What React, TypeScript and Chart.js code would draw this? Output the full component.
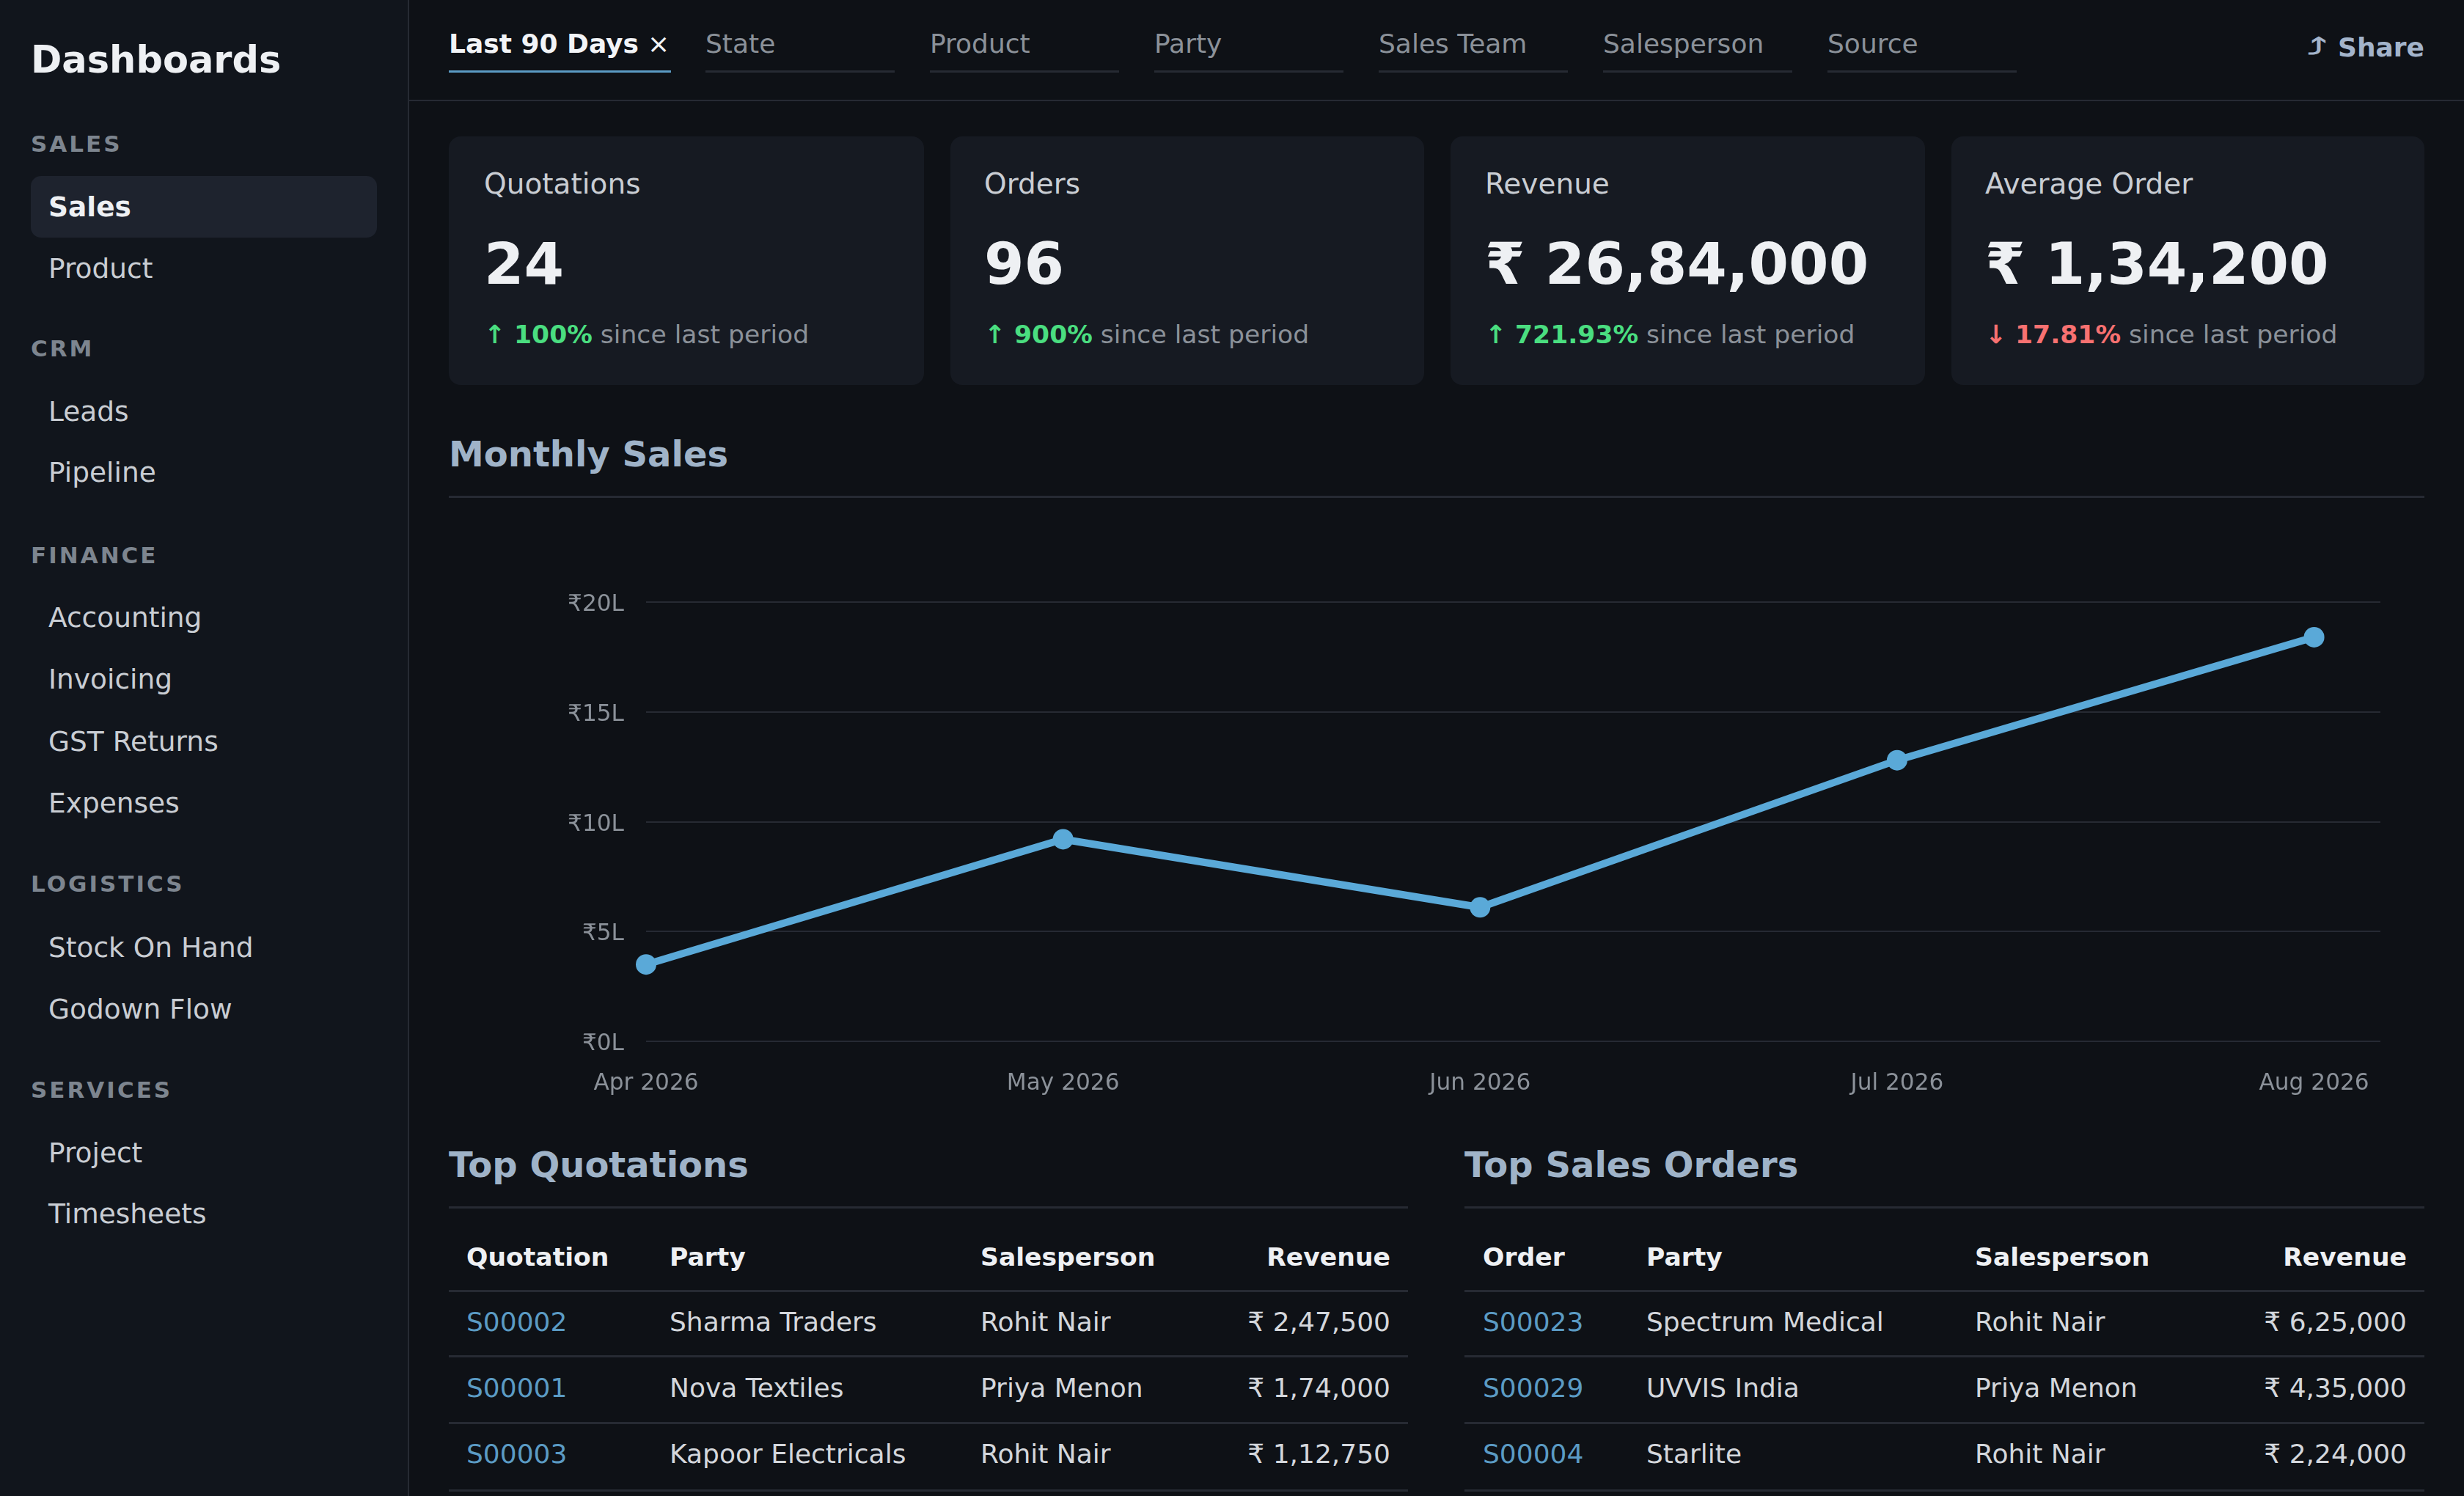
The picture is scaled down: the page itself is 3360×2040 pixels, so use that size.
import { useEffect, useRef } from 'react'
import Chart from 'chart.js/auto'

const months = ['Apr 2026', 'May 2026', 'Jun 2026', 'Jul 2026', 'Aug 2026']
const salesLakh = [3.5, 9.2, 6.1, 12.8, 18.4]
const yTicks = [0, 5, 10, 15, 20]

const navGroups = [
  { y: 196, title: 'SALES', items: [['Sales', 282], ['Product', 366]] },
  { y: 475, title: 'CRM', items: [['Leads', 561], ['Pipeline', 644]] },
  { y: 757, title: 'FINANCE', items: [['Accounting', 842], ['Invoicing', 926], ['GST Returns', 1011], ['Expenses', 1095]] },
  { y: 1205, title: 'LOGISTICS', items: [['Stock On Hand', 1292], ['Godown Flow', 1376]] },
  { y: 1486, title: 'SERVICES', items: [['Project', 1572], ['Timesheets', 1655]] },
]

const filters = ['State', 'Product', 'Party', 'Sales Team', 'Salesperson', 'Source']

const kpis = [
  { label: 'Quotations', value: '24', delta: '↑ 100%', up: true },
  { label: 'Orders', value: '96', delta: '↑ 900%', up: true },
  { label: 'Revenue', value: '₹ 26,84,000', delta: '↑ 721.93%', up: true },
  { label: 'Average Order', value: '₹ 1,34,200', delta: '↓ 17.81%', up: false },
]

const quotationRows = [
  ['S00002', 'Sharma Traders', 'Rohit Nair', '₹ 2,47,500'],
  ['S00001', 'Nova Textiles', 'Priya Menon', '₹ 1,74,000'],
  ['S00003', 'Kapoor Electricals', 'Rohit Nair', '₹ 1,12,750'],
]
const orderRows = [
  ['S00023', 'Spectrum Medical', 'Rohit Nair', '₹ 6,25,000'],
  ['S00029', 'UVVIS India', 'Priya Menon', '₹ 4,35,000'],
  ['S00004', 'Starlite', 'Rohit Nair', '₹ 2,24,000'],
]

const FONT = '"DejaVu Sans", sans-serif'
const RULE = '#262a33'

// text placed by its vertical centre
function T({ x, r, cy, size, color, bold, spacing, children }: any) {
  return (
    <div
      style={{
        position: 'absolute',
        left: x,
        right: r !== undefined ? 3360 - r : undefined,
        top: cy - 60,
        height: 120,
        lineHeight: '120px',
        fontSize: size,
        color,
        fontWeight: bold ? 700 : 400,
        letterSpacing: spacing,
        whiteSpace: 'nowrap',
      }}
    >
      {children}
    </div>
  )
}

function Box({ x, y, w, h, bg, radius }: any) {
  return <div style={{ position: 'absolute', left: x, top: y, width: w, height: h, background: bg, borderRadius: radius }} />
}

function SalesChart() {
  const canvasRef = useRef<HTMLCanvasElement | null>(null)

  useEffect(() => {
    const ctx = canvasRef.current?.getContext('2d')
    if (!ctx) return

    const chart = new Chart(ctx, {
      type: 'line',
      data: {
        datasets: [
          {
            data: salesLakh.map((v, i) => ({ x: i, y: v })),
            borderColor: '#5aa9d8',
            backgroundColor: '#5aa9d8',
            borderWidth: 10,
            pointRadius: 14,
            pointBackgroundColor: '#5aa9d8',
            pointBorderWidth: 0,
            tension: 0,
            clip: false,
          },
        ],
      },
      options: {
        animation: false,
        responsive: false,
        layout: { padding: { top: 121, right: 60 } },
        plugins: { legend: { display: false }, tooltip: { enabled: false } },
        scales: {
          x: {
            type: 'linear',
            min: 0,
            max: 4.159,
            grid: { display: false },
            border: { display: false },
            afterBuildTicks: (s: any) => {
              s.ticks = months.map((_, i) => ({ value: i }))
            },
            afterFit: (s: any) => {
              s.height = 80
            },
            ticks: {
              autoSkip: false,
              maxRotation: 0,
              padding: 31,
              color: '#8b9199',
              font: { family: FONT, size: 31.2 },
              callback: (v: any) => months[v],
            },
          },
          y: {
            min: 0,
            max: 20,
            grid: { color: RULE, lineWidth: 2, drawTicks: false },
            border: { display: false },
            afterBuildTicks: (s: any) => {
              s.ticks = yTicks.map((value) => ({ value }))
            },
            afterFit: (s: any) => {
              s.width = 269
            },
            ticks: {
              padding: 30,
              labelOffset: 4,
              color: '#8b9199',
              font: { family: FONT, size: 31.2 },
              callback: (v: any) => `₹${v}L`,
            },
          },
        },
      },
    })

    return () => chart.destroy()
  }, [])

  return <canvas ref={canvasRef} width={2694} height={800} style={{ position: 'absolute', left: 612, top: 700, width: 2694, height: 800 }} />
}

function OrderTable({ x0, right, cols, head, rows }: any) {
  const rules = [1760, 1849, 1940, 2032]
  const cys = [1803, 1893, 1983]
  return (
    <>
      <T x={cols[0]} cy={1714} size={34.6} color="#eef0f3" bold>{head[0]}</T>
      <T x={cols[1]} cy={1714} size={34.6} color="#eef0f3" bold>{head[1]}</T>
      <T x={cols[2]} cy={1714} size={34.6} color="#eef0f3" bold>{head[2]}</T>
      <T r={cols[3]} cy={1714} size={34.6} color="#eef0f3" bold>Revenue</T>
      {rules.map((y) => (
        <Box key={y} x={x0} y={y - 1} w={right - x0} h={3} bg={RULE} />
      ))}
      {rows.map((row: string[], i: number) => (
        <div key={row[0]}>
          <T x={cols[0]} cy={cys[i]} size={36} color="#5b9bc4">{row[0]}</T>
          <T x={cols[1]} cy={cys[i]} size={36} color="#d4d7dc">{row[1]}</T>
          <T x={cols[2]} cy={cys[i]} size={36} color="#d4d7dc">{row[2]}</T>
          <T r={cols[3]} cy={cys[i]} size={36} color="#d4d7dc">{row[3]}</T>
        </div>
      ))}
    </>
  )
}

export default function App() {
  const cardX = [612, 1296, 1978, 2661]
  const cardW = [648, 646, 647, 645]
  const textX = [660, 1342, 2025, 2707]
  return (
    <div style={{ position: 'absolute', left: 0, top: 0, width: 3360, height: 2040, overflow: 'hidden', background: '#0e1116', fontFamily: FONT }}>
      {/* sidebar */}
      <Box x={0} y={0} w={556} h={2040} bg="#11151c" />
      <Box x={556} y={0} w={2} h={2040} bg={RULE} />
      <T x={42} cy={82} size={51} color="#eef0f3" bold>Dashboards</T>
      <Box x={42} y={240} w={472} h={84} bg="#1e232e" radius={14} />
      {navGroups.map((g) => (
        <div key={g.title}>
          <T x={42} cy={g.y} size={31} color="#7d858f" bold spacing={3}>{g.title}</T>
          {g.items.map(([name, y]) => (
            <T key={name} x={66} cy={y} size={37.5} color={name === 'Sales' ? '#eef0f3' : '#c9cdd3'} bold={name === 'Sales'}>{name}</T>
          ))}
        </div>
      ))}

      {/* filter bar */}
      <Box x={558} y={136} w={2802} h={2} bg={RULE} />
      <T x={612} cy={60} size={36} color="#f2f4f7" bold>Last 90 Days</T>
      <T x={883} cy={60} size={36} color="#f2f4f7">×</T>
      <Box x={612} y={96} w={303} h={3} bg="#5b9bc4" />
      {filters.map((f, i) => (
        <div key={f}>
          <T x={962 + i * 306} cy={60} size={36} color="#8b9199">{f}</T>
          <Box x={962 + i * 306} y={96} w={258} h={3} bg={RULE} />
        </div>
      ))}
      <T x={3146} cy={65} size={36} color="#a3b4cb" bold>
        <span style={{ display: 'inline-block', transform: 'scale(1.5, 0.85)', transformOrigin: 'left center' }}>⤴</span>
      </T>
      <T r={3306} cy={65} size={36} color="#a3b4cb" bold>Share</T>

      {/* kpi cards */}
      {kpis.map((k, i) => (
        <div key={k.label}>
          <Box x={cardX[i]} y={186} w={cardW[i]} h={339} bg="#161a22" radius={16} />
          <T x={textX[i]} cy={251} size={39} color="#c9cdd3">{k.label}</T>
          <T x={textX[i]} cy={360} size={78.4} color="#eef0f3" bold>{k.value}</T>
          <T x={textX[i]} cy={456} size={34.6} color="#8b9199">
            <span style={{ color: k.up ? '#4ade80' : '#f87171', fontWeight: 700 }}>{k.delta}</span> since last period
          </T>
        </div>
      ))}

      {/* monthly sales */}
      <T x={612} cy={619} size={48} color="#9fb3c8" bold>Monthly Sales</T>
      <Box x={612} y={676} w={2694} h={3} bg={RULE} />
      <SalesChart />

      {/* tables */}
      <T x={612} cy={1588} size={48} color="#9fb3c8" bold>Top Quotations</T>
      <Box x={612} y={1645} w={1308} h={3} bg={RULE} />
      <OrderTable x0={612} right={1920} cols={[636, 913, 1337, 1896]} head={['Quotation', 'Party', 'Salesperson']} rows={quotationRows} />
      <T x={1997} cy={1588} size={48} color="#9fb3c8" bold>Top Sales Orders</T>
      <Box x={1997} y={1645} w={1309} h={3} bg={RULE} />
      <OrderTable x0={1997} right={3306} cols={[2022, 2245, 2693, 3282]} head={['Order', 'Party', 'Salesperson']} rows={orderRows} />
    </div>
  )
}
